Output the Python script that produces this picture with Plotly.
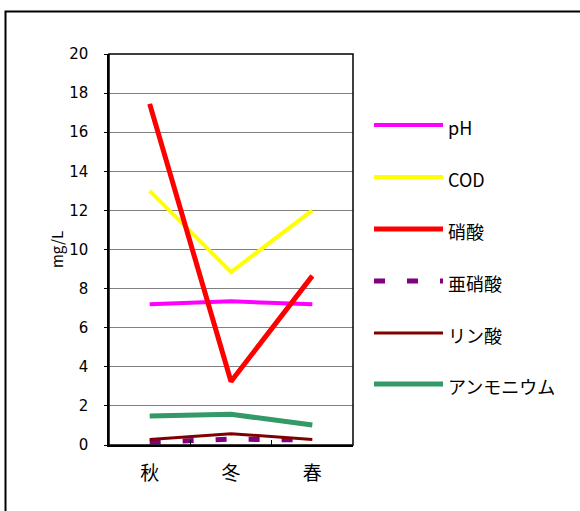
import plotly.graph_objects as go

categories = ["秋", "冬", "春"]
series_names = ["pH", "COD", "硝酸", "亜硝酸", "リン酸", "アンモニウム"]
ph = [7.2, 7.35, 7.2]
cod = [13.0, 8.85, 12.0]
nitrate = [17.45, 3.25, 8.65]
nitrite = [0.15, 0.3, 0.25]
phosphate = [0.28, 0.58, 0.28]
ammonium = [1.48, 1.57, 1.02]
y_ticks = list(range(0, 21, 2))

series_values = [ph, cod, nitrate, nitrite, phosphate, ammonium]
colors = ["#FF00FF", "#FFFF00", "#FF0000", "#800080", "#800000", "#339966"]
widths = [4, 4, 5, 5, 3, 5]
dashes = ["solid", "solid", "solid", "11px,22px", "solid", "solid"]

FONT = "Noto Sans CJK JP"
W, H = 580, 511
L, R, T, B = 109, 353, 54, 445

fig = go.Figure()
for name, vals, c, w, d in zip(series_names, series_values, colors, widths, dashes):
    fig.add_trace(go.Scatter(x=categories, y=vals, mode="lines", name=name,
                             line=dict(color=c, width=w, dash=d), showlegend=False))

pw, ph_ = R - L, B - T
def px(x):
    return (x - L) / pw
def py(y):
    return (B - y) / ph_

shapes = []
annotations = []
# outer border
shapes.append(dict(type="rect", xref="paper", yref="paper",
                   x0=px(5.5), x1=px(590), y0=py(11.5), y1=py(530),
                   line=dict(color="black", width=2), layer="below"))
# legend
leg_y = [125, 177, 229, 281, 333, 384]
for name, c, w, d, yy in zip(series_names, colors, widths, dashes, leg_y):
    shapes.append(dict(type="line", xref="paper", yref="paper",
                       x0=px(374), x1=px(443), y0=py(yy), y1=py(yy),
                       line=dict(color=c, width=w, dash=d)))
    annotations.append(dict(xref="paper", yref="paper", x=px(446), y=py(yy + 2),
                            text=name, showarrow=False, xanchor="left", yanchor="middle",
                            font=dict(family=FONT, size=18, color="black")))

fig.update_layout(
    width=W, height=H,
    margin=dict(l=L, r=W - R, t=T, b=H - B, pad=0),
    paper_bgcolor="white", plot_bgcolor="white",
    showlegend=False,
    shapes=shapes, annotations=annotations,
    font=dict(family=FONT, color="black"),
    xaxis=dict(type="category", range=[-0.5, 2.5], showgrid=False,
               ticks="inside", tickson="boundaries", ticklen=5, tickcolor="black",
               showline=True, linecolor="black", linewidth=2, mirror=False,
               tickfont=dict(family=FONT, size=19), ticklabelstandoff=10),
    yaxis=dict(range=[0, 20], tickvals=y_ticks, showgrid=True, gridcolor="#808080",
               gridwidth=1, ticks="outside", ticklen=3, tickcolor="black",
               showline=True, linecolor="black", linewidth=1.5, mirror=False,
               zeroline=False, tickfont=dict(family="DejaVu Sans", size=15),
               ticklabelstandoff=13,
               title=dict(text="mg/L", font=dict(family=FONT, size=15), standoff=2)),
)
# plot box top/right
fig.add_shape(type="rect", xref="paper", yref="paper", x0=0, x1=1, y0=0, y1=1,
              line=dict(color="black", width=1.5))

fig.write_html("out.html")
